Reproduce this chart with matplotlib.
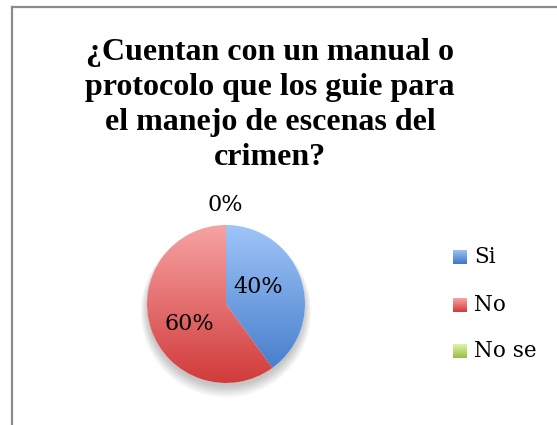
import matplotlib
matplotlib.use("Agg")
import matplotlib.pyplot as plt
import numpy as np
from matplotlib.patches import Circle
from matplotlib.colors import LinearSegmentedColormap

categories = ["Si", "No", "No se"]
values = [40, 60, 0]
labels_pct = ["40%", "60%", "0%"]
title = "¿Cuentan con un manual o\nprotocolo que los guie para\nel manejo de escenas del\ncrimen?"

grad = {
    "Si": ("#9fc5f8", "#3f78c8"),
    "No": ("#f7a3a3", "#d13b3b"),
    "No se": ("#dcf5a8", "#98bd48"),
}

W, H = 557, 425
fig = plt.figure(figsize=(W / 100, H / 100), dpi=100)
fig.patch.set_facecolor("white")

# chart border (left and top visible)
fig.add_artist(plt.Line2D([11.5 / W, 11.5 / W], [0, 1 - 6.5 / H], color="#8c8c8c", lw=1.6, transform=fig.transFigure))
fig.add_artist(plt.Line2D([11.5 / W, 1], [1 - 6.5 / H, 1 - 6.5 / H], color="#8c8c8c", lw=1.6, transform=fig.transFigure))

tserif = ["Liberation Serif", "DejaVu Serif"]
serif = ["DejaVu Serif"]

fig.text(270 / W, 1 - 105 / H, title, ha="center", va="center", fontsize=23,
         fontweight="bold", family=tserif, linespacing=1.26)

# pie axes
cx, cy, r = 226, 304, 79
pad = 1.6
ax = fig.add_axes([(cx - r * pad) / W, (H - cy - r * pad) / H, 2 * r * pad / W, 2 * r * pad / H])
ax.set_aspect("equal")
ax.axis("off")

# soft shadow at the bottom
for i in range(10):
    ax.add_patch(Circle((0, -0.05 - 0.006 * i), 0.99 + 0.01 * i, color="black",
                        alpha=0.025, lw=0, zorder=0))

wedges, _ = ax.pie(values, startangle=90, counterclock=False, radius=1,
                   colors=["white"] * 3, wedgeprops=dict(lw=0))
for w, cat in zip(wedges, categories):
    w.set_zorder(1)
    c1, c2 = grad[cat]
    cmap = LinearSegmentedColormap.from_list(cat, [c1, c2])
    img = ax.imshow(np.linspace(0, 1, 256).reshape(-1, 1), cmap=cmap, aspect="auto",
                    extent=(-1, 1, -1, 1), origin="upper", zorder=2)
    img.set_clip_path(w)
ax.set_xlim(-pad, pad)
ax.set_ylim(-pad, pad)

lab_font = dict(family=serif, fontsize=16, ha="center", va="center", zorder=5)
ax.text(32 / r, 17 / r, labels_pct[0], **lab_font)
ax.text(-37 / r, -20 / r, labels_pct[1], **lab_font)
ax.text(-1 / r, 99 / r, labels_pct[2], **lab_font)

# legend
leg_y = [257, 305, 351]
for cat, y in zip(categories, leg_y):
    c1, c2 = grad[cat]
    lax = fig.add_axes([453 / W, 1 - (y + 7) / H, 14 / W, 14 / H])
    cmap = LinearSegmentedColormap.from_list(cat + "l", [c1, c2])
    lax.imshow(np.linspace(0, 1, 32).reshape(-1, 1), cmap=cmap, aspect="auto")
    lax.axis("off")
    fig.text(474 / W, 1 - y / H, cat, family=serif, fontsize=15.5, ha="left", va="center")

fig.savefig("out.png", dpi=100, facecolor="white")
